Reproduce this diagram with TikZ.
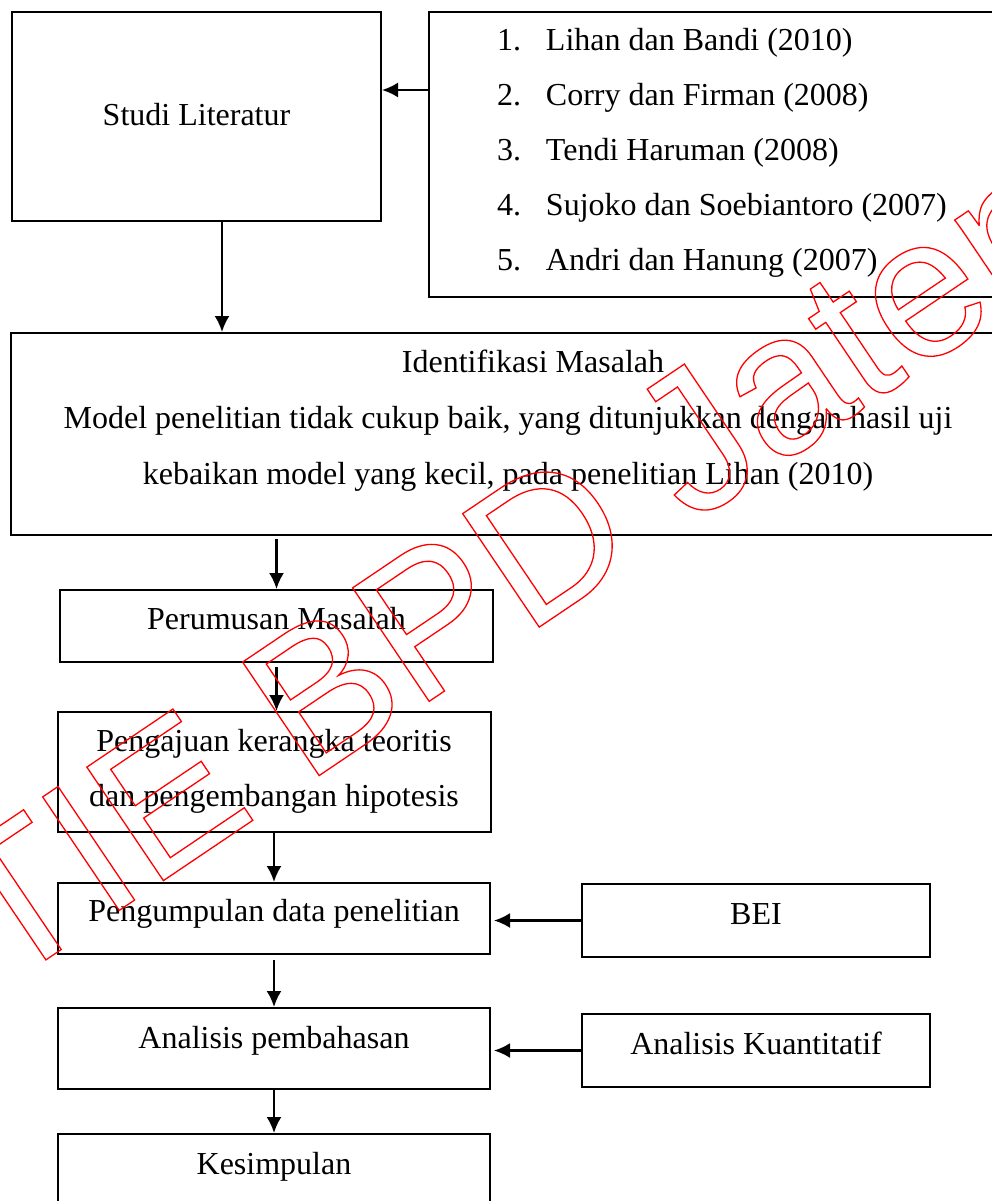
\documentclass[tikz,border=0pt]{standalone}
\usepackage{fontspec}
\setmainfont{Liberation Serif}
\newfontfamily\wmfont{Liberation Sans}
\usetikzlibrary{arrows.meta}

\tikzset{
  box/.style={draw, line width=2pt, inner sep=0pt, font=\fontsize{32}{56}\selectfont},
  arr/.style={line width=2.2pt, -{Latex[length=16pt,width=15pt]}},
}

\begin{document}
\begin{tikzpicture}[x=1pt,y=-1pt]
  \useasboundingbox (0,0) rectangle (992,1201);
  \node[box, minimum width=369pt, text height=114pt, text depth=95pt, anchor=north] (studi) at (196.5,11) {Studi Literatur};
  \node[box, font=\fontsize{32}{55}\selectfont, text height=39pt, text depth=246pt, anchor=north west] (rujukan) at (428,11) {%
    \begin{tabular}[t]{@{\hspace{68pt}}p{24pt}@{\hspace{25pt}}p{555pt}@{}}
      1. & Lihan dan Bandi (2010)\\
      2. & Corry dan Firman (2008)\\
      3. & Tendi Haruman (2008)\\
      4. & Sujoko dan Soebiantoro (2007)\\
      5. & Andri dan Hanung (2007)
    \end{tabular}};
  \node[box, minimum width=994pt, text height=39pt, text depth=163pt, anchor=north] (masalah) at (508,332) {%
    \begin{tabular}[t]{@{}c@{}}
      \hspace*{50pt}Identifikasi Masalah\\
      Model penelitian tidak cukup baik, yang ditunjukkan dengan hasil uji\\
      kebaikan model yang kecil, pada penelitian Lihan (2010)
    \end{tabular}};
  \node[box, minimum width=433pt, text height=39pt, text depth=33pt, anchor=north] (perumusan) at (276.5,589) {Perumusan Masalah};
  \node[box, font=\fontsize{32}{55}\selectfont, minimum width=433pt, text height=39pt, text depth=81pt, anchor=north] (pengajuan) at (274,711) {%
    \begin{tabular}[t]{@{}c@{}}
      Pengajuan kerangka teoritis\\
      dan pengembangan hipotesis
    \end{tabular}};
  \node[box, minimum width=432pt, text height=38pt, text depth=33pt, anchor=north] (pengumpulan) at (274,882) {Pengumpulan data penelitian};
  \node[box, minimum width=348pt, text height=40pt, text depth=33pt, anchor=north] (bei) at (756,883) {BEI};
  \node[box, minimum width=432pt, text height=40pt, text depth=41pt, anchor=north] (analisis) at (274,1007) {Analisis pembahasan};
  \node[box, minimum width=348pt, text height=40pt, text depth=33pt, anchor=north] (kuantitatif) at (756,1013) {Analisis Kuantitatif};
  \node[box, minimum width=432pt, text height=40pt, text depth=87pt, anchor=north] (kesimpulan) at (274,1133) {Kesimpulan};

  \coordinate (r1) at ([yshift=-79pt]rujukan.north west);
  \draw[arr] (r1) -- (r1 -| studi.east);
  \draw[arr] ([xshift=25.5pt]studi.south) -- ([xshift=25.5pt]studi.south |- masalah.north);
  \draw[arr] ([yshift=-3pt]masalah.south -| perumusan.north) -- (perumusan.north);
  \draw[arr] ([yshift=-4pt]perumusan.south) -- (perumusan.south |- pengajuan.north);
  \draw[arr] (pengajuan.south) -- (pengumpulan.north);
  \draw[arr] (bei.west) -- ([xshift=3pt]bei.west -| pengumpulan.east);
  \draw[arr] ([yshift=-5pt]pengumpulan.south) -- (analisis.north);
  \draw[arr] (kuantitatif.west) -- ([xshift=3pt]kuantitatif.west -| analisis.east);
  \draw[arr] (analisis.south) -- (kesimpulan.north);

  \node[text=red, font=\wmfont\fontsize{199}{199}\selectfont, rotate=34, anchor=base west, inner sep=0pt] (tanda) at (-107,1063) {\special{pdf:literal direct 1 Tr 1.3 w}STIE BPD Jateng};
\end{tikzpicture}
\end{document}
